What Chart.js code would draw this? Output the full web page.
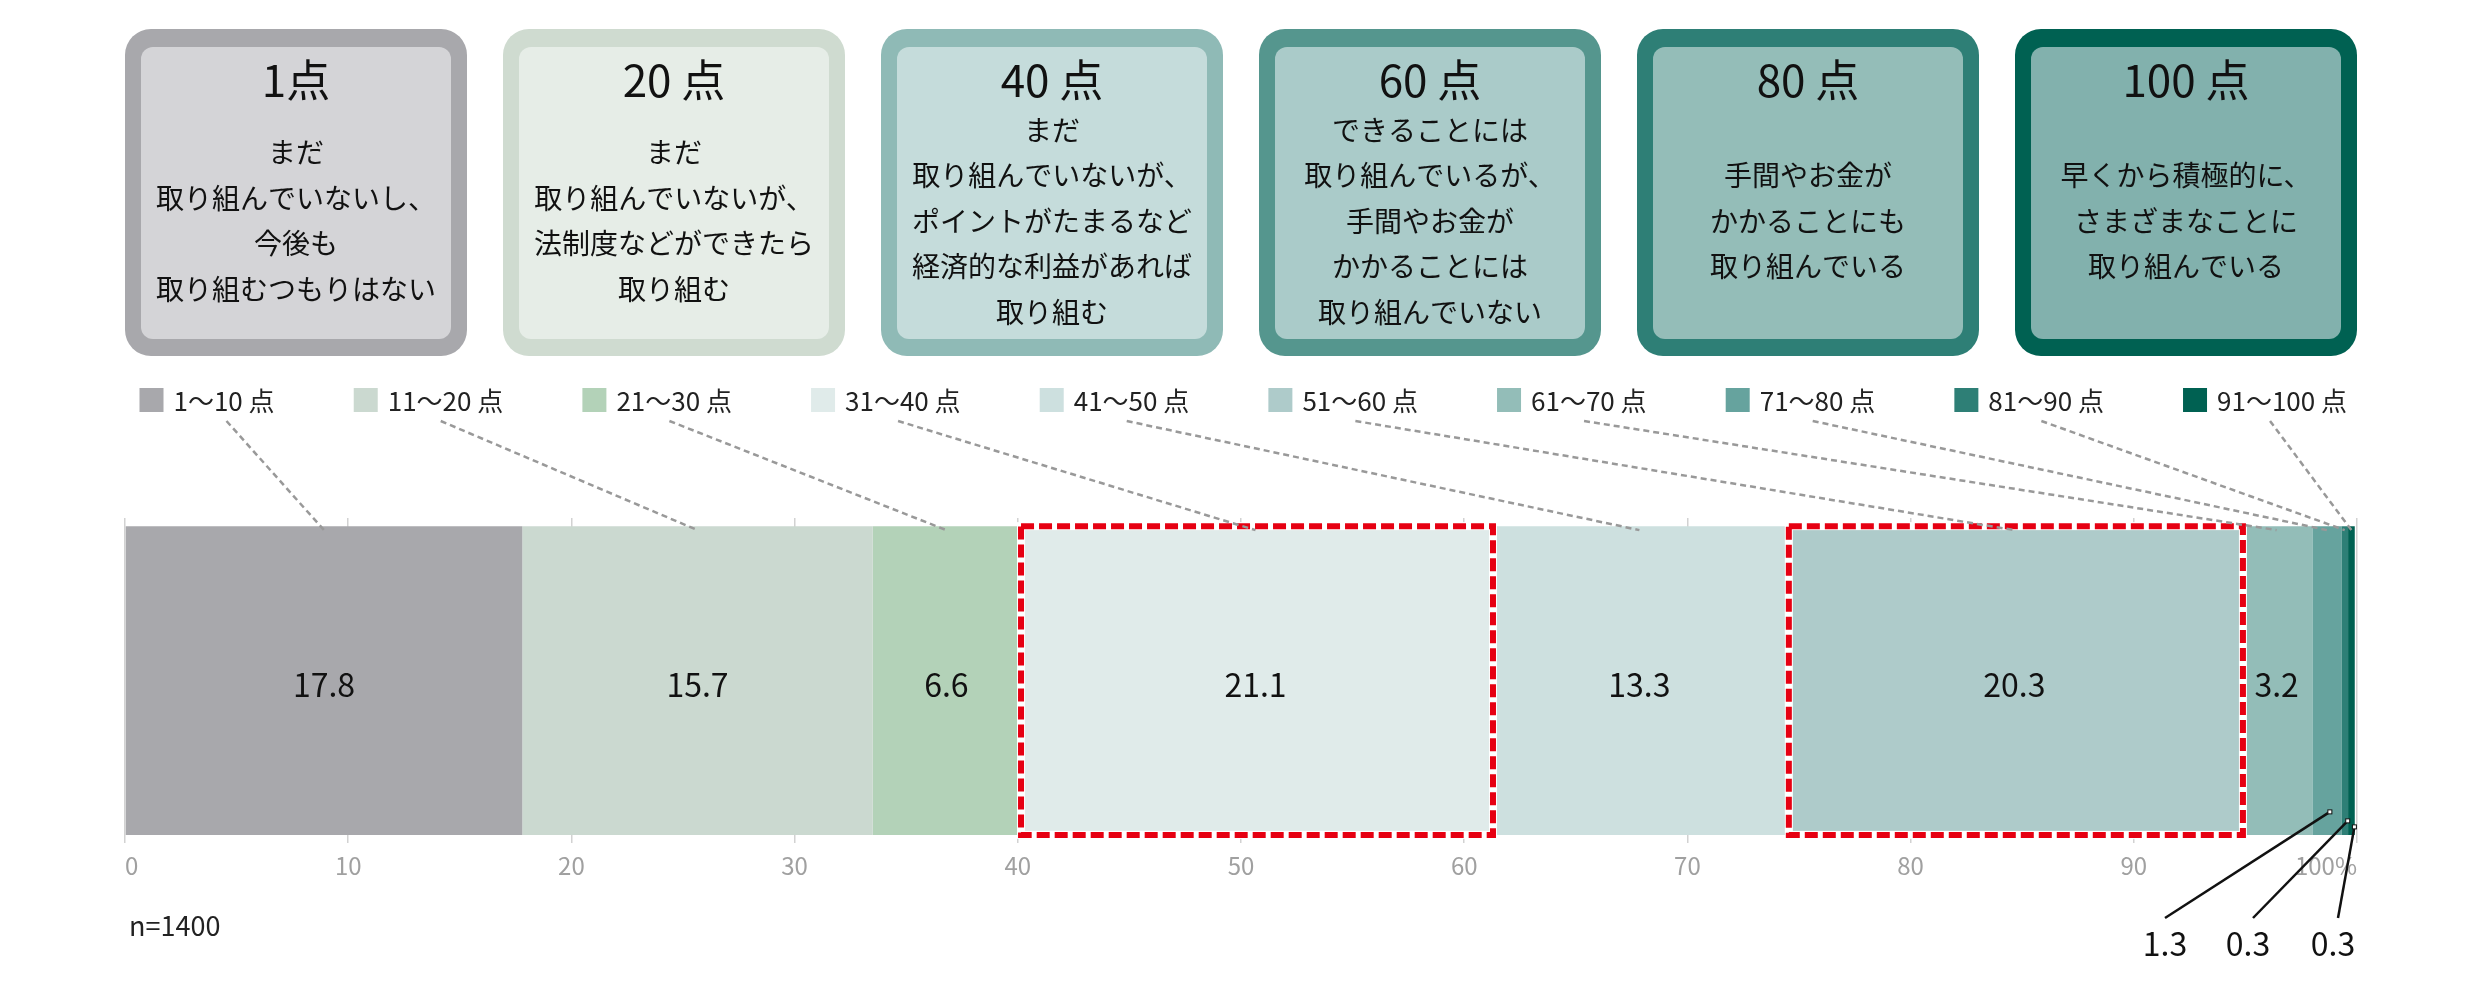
<!DOCTYPE html>
<html lang="ja">
<head>
<meta charset="utf-8">
<script src="https://cdn.jsdelivr.net/npm/chart.js@4.4.1/dist/chart.umd.min.js"></script>
<style>
html, body { margin: 0; padding: 0; background: #fff; }
#area { width: 2480px; height: 988px; position: relative; }
</style>
</head>
<body>
<div id="area"><canvas id="grafico" width="2480" height="988"></canvas></div>
<script>
// dados
const categorias = ['1〜10 点', '11〜20 点', '21〜30 点', '31〜40 点', '41〜50 点',
                    '51〜60 点', '61〜70 点', '71〜80 点', '81〜90 点', '91〜100 点'];
const valores = [17.8, 15.7, 6.6, 21.1, 13.3, 20.3, 3.2, 1.3, 0.3, 0.3];
const destaques = [3, 5]; // faixas com contorno vermelho
const rotulosEixo = ['0', '10', '20', '30', '40', '50', '60', '70', '80', '90', '100%'];
const amostra = 'n=1400';

const cartaoTitulos = ['1点', '20 点', '40 点', '60 点', '80 点', '100 点'];
const cartaoTextos = [
    ['まだ', '取り組んでいないし、', '今後も', '取り組むつもりはない'],
    ['まだ', '取り組んでいないが、', '法制度などができたら', '取り組む'],
    ['まだ', '取り組んでいないが、', 'ポイントがたまるなど', '経済的な利益があれば', '取り組む'],
    ['できることには', '取り組んでいるが、', '手間やお金が', 'かかることには', '取り組んでいない'],
    ['手間やお金が', 'かかることにも', '取り組んでいる'],
    ['早くから積極的に、', 'さまざまなことに', '取り組んでいる']
];

// estilos
const coresSegmento = ['#a8a8ac', '#cbd9d0', '#b3d2b8', '#e0ebea', '#cde0df',
                       '#aecbca', '#93bdb8', '#66a39e', '#2e7f76', '#006152'];
const coresBorda = ['#a8a8ac', '#cfdbd0', '#8fbab6', '#55968e', '#2e7f76', '#006152'];
const coresFundo = ['#d4d4d7', '#e6ede7', '#c5dcdb', '#aacbc9', '#94bdb8', '#82b1ad'];

const fonte = (tam) => tam + 'px "Noto Sans CJK JP", "Noto Sans", sans-serif';

// cartões do topo
const pluginCartoes = {
    id: 'cartoes',
    afterDraw(chart) {
        const { ctx, chartArea } = chart;
        const gap = 36;
        const w = (chartArea.right - chartArea.left - gap * 5) / 6;
        ctx.save();
        cartaoTitulos.forEach((titulo, i) => {
            const x = chartArea.left + i * (w + gap);
            const y = 29, h = 327;
            ctx.fillStyle = coresBorda[i];
            ctx.beginPath(); ctx.roundRect(x, y, w, h, 26); ctx.fill();
            ctx.fillStyle = coresFundo[i];
            ctx.beginPath(); ctx.roundRect(x + 16, y + 18, w - 32, h - 35, 12); ctx.fill();

            ctx.fillStyle = '#111';
            ctx.textAlign = 'center';
            ctx.textBaseline = 'middle';
            ctx.font = fonte(44);
            ctx.fillText(titulo, x + w / 2, 80);

            const linhas = cartaoTextos[i];
            const lh = 45.5;
            const y0 = 221 - (linhas.length - 1) * lh / 2;
            ctx.font = fonte(28);
            linhas.forEach((l, k) => ctx.fillText(l, x + w / 2, y0 + k * lh));
        });
        ctx.restore();
    }
};

// legenda + linhas pontilhadas até a barra
const pluginLegenda = {
    id: 'legendaCustom',
    afterDraw(chart) {
        const { ctx, chartArea } = chart;
        ctx.save();
        ctx.font = fonte(26);
        const inicio = chartArea.left + 14.5, fim = chartArea.right - 10;
        const larguras = categorias.map(c => 34 + ctx.measureText(c).width);
        const soma = larguras.reduce((a, b) => a + b, 0);
        const gap = (fim - inicio - soma) / (categorias.length - 1);
        let x = inicio;
        categorias.forEach((cat, i) => {
            ctx.fillStyle = coresSegmento[i];
            ctx.fillRect(x, 388, 24, 24);
            ctx.fillStyle = '#222';
            ctx.textAlign = 'left';
            ctx.textBaseline = 'middle';
            ctx.fillText(cat, x + 34, 401);

            const el = chart.getDatasetMeta(i).data[0];
            const cx = (el.x + el.base) / 2;
            ctx.strokeStyle = '#999';
            ctx.lineWidth = 2.5;
            ctx.setLineDash([6, 4]);
            ctx.beginPath();
            ctx.moveTo(x + 34 + 53, 421);
            ctx.lineTo(cx, el.y - el.height / 2 + 4);
            ctx.stroke();
            ctx.setLineDash([]);
            x += larguras[i] + gap;
        });
        ctx.restore();
    }
};

// valores dentro da barra, pequenos embaixo, contornos vermelhos
const pluginRotulos = {
    id: 'rotulos',
    afterDatasetsDraw(chart) {
        const { ctx, chartArea } = chart;
        ctx.save();
        // contornos
        destaques.forEach(i => {
            const el = chart.getDatasetMeta(i).data[0];
            const x1 = Math.min(el.x, el.base) + 1, x2 = Math.max(el.x, el.base) + 2;
            const y1 = el.y - el.height / 2, y2 = el.y + el.height / 2;
            ctx.lineWidth = 8;
            ctx.strokeStyle = '#ffffff';
            ctx.strokeRect(x1, y1, x2 - x1, y2 - y1);
            ctx.lineWidth = 6;
            ctx.strokeStyle = '#e60012';
            ctx.setLineDash([13, 5]);
            ctx.strokeRect(x1, y1, x2 - x1, y2 - y1);
            ctx.setLineDash([]);
        });

        ctx.fillStyle = '#111';
        ctx.textAlign = 'center';
        ctx.textBaseline = 'middle';
        ctx.font = fonte(32);
        const pequenos = [];
        valores.forEach((v, i) => {
            const el = chart.getDatasetMeta(i).data[0];
            if (v >= 2) {
                ctx.fillText(v.toFixed(1), (el.x + el.base) / 2, el.y + 4);
            } else {
                pequenos.push(i);
            }
        });

        // rótulos externos com linha guia
        const desvX = [-192, -109, -24];
        const desvY = [23, 14, 8];
        pequenos.forEach((i, k) => {
            const el = chart.getDatasetMeta(i).data[0];
            const lx = chartArea.right + desvX[k], ly = 944;
            const px = (el.x + el.base) / 2 + 3;
            const py = el.y + el.height / 2 - desvY[k];
            ctx.strokeStyle = '#111';
            ctx.lineWidth = 2.5;
            ctx.beginPath();
            ctx.moveTo(lx + (k === 0 ? 0 : 5), 918);
            ctx.lineTo(px, py);
            ctx.stroke();
            ctx.fillStyle = '#fff';
            ctx.fillRect(px - 2, py - 2, 4, 4);
            ctx.lineWidth = 1;
            ctx.strokeRect(px - 2, py - 2, 4, 4);
            ctx.fillStyle = '#111';
            ctx.fillText(valores[i].toFixed(1), lx, ly);
        });

        // tamanho da amostra
        ctx.textAlign = 'left';
        ctx.font = fonte(27);
        ctx.fillStyle = '#222';
        ctx.fillText(amostra, chartArea.left + 4, 926);
        ctx.restore();
    }
};

const datasets = valores.map((v, i) => ({
    label: categorias[i],
    data: [v],
    backgroundColor: coresSegmento[i],
    borderWidth: 0,
    barPercentage: 0.95,
    categoryPercentage: 1
}));

new Chart(document.getElementById('grafico'), {
    type: 'bar',
    data: { labels: [''], datasets: datasets },
    plugins: [pluginCartoes, pluginLegenda, pluginRotulos],
    options: {
        indexAxis: 'y',
        responsive: false,
        animation: false,
        layout: { padding: { left: 125, right: 123, top: 518, bottom: 85 } },
        plugins: {
            legend: { display: false },
            tooltip: { enabled: false }
        },
        scales: {
            x: {
                stacked: true,
                min: 0,
                max: 100,
                afterFit: (s) => { s.height = 60; },
                grid: { color: '#d2d2d2', lineWidth: 1.5, drawTicks: false },
                border: { display: false },
                ticks: {
                    stepSize: 10,
                    align: 'inner',
                    padding: 8,
                    color: '#a0a0a0',
                    font: { family: '"Noto Sans CJK JP", "Noto Sans", sans-serif', size: 24 },
                    callback: (v, idx) => rotulosEixo[idx]
                }
            },
            y: { stacked: true, display: false }
        }
    }
});
</script>
</body>
</html>
